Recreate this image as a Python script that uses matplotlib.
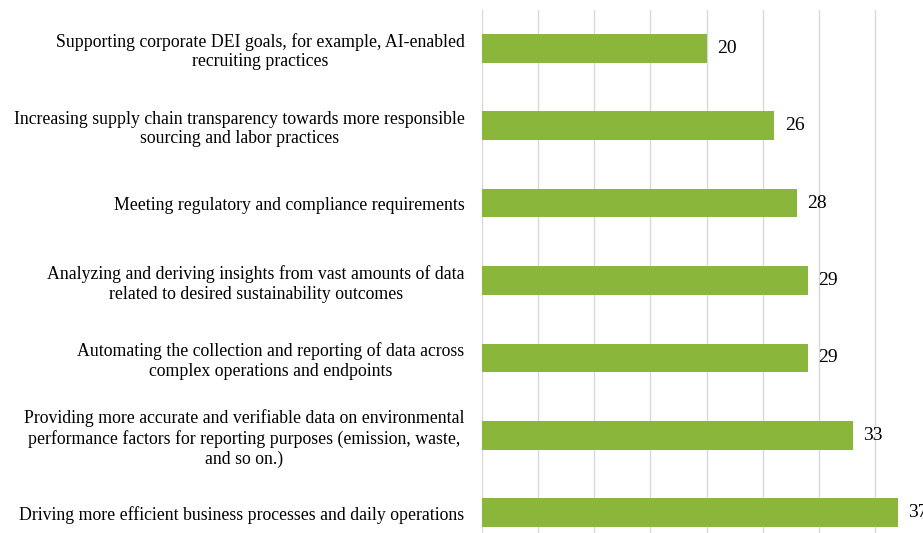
import matplotlib
matplotlib.use("Agg")
import matplotlib.pyplot as plt

categories = [
    "Supporting corporate DEI goals, for example, AI-enabled\nrecruiting practices",
    "Increasing supply chain transparency towards more responsible\nsourcing and labor practices",
    "Meeting regulatory and compliance requirements",
    "Analyzing and deriving insights from vast amounts of data\nrelated to desired sustainability outcomes",
    "Automating the collection and reporting of data across\ncomplex operations and endpoints",
    "Providing more accurate and verifiable data on environmental\nperformance factors for reporting purposes (emission, waste,\nand so on.)",
    "Driving more efficient business processes and daily operations",
]
values = [20, 26, 28, 29, 29, 33, 37]

plt.rcParams['font.family'] = ['Liberation Serif', 'DejaVu Serif']

fig = plt.figure(figsize=(9.23, 5.33), dpi=100)
W, H = 923, 533
left_px, right_px = 481.7, 931.6
top_px, bottom_px = 9.5, 551.5
ax = fig.add_axes([left_px / W, (H - bottom_px) / H, (right_px - left_px) / W, (bottom_px - top_px) / H])

y = list(range(len(categories)))
ax.barh(y, values, height=0.37, color='#8AB73B', zorder=2)
ax.set_ylim(len(categories) - 0.5, -0.5)
ax.set_xlim(0, 40)
ax.set_xticks(range(0, 41, 5))
ax.set_xticklabels([])
ax.tick_params(axis='x', length=0)
ax.grid(axis='x', color='#D9D9D9', linewidth=1.0, zorder=0)
ax.set_axisbelow(True)
for s in ax.spines.values():
    s.set_visible(False)

ax.set_yticks(y)
ax.set_yticklabels(categories, fontsize=12.8, multialignment='center', linespacing=1.2)
ax.tick_params(axis='y', length=0, pad=12.3)

for yi, v in zip(y, values):
    ax.annotate(str(v), (v, yi), xytext=(7.6, 0), textcoords='offset points',
                va='center', ha='left', fontsize=14, color='#000000', annotation_clip=False)

fig.savefig("out.png", dpi=100)
